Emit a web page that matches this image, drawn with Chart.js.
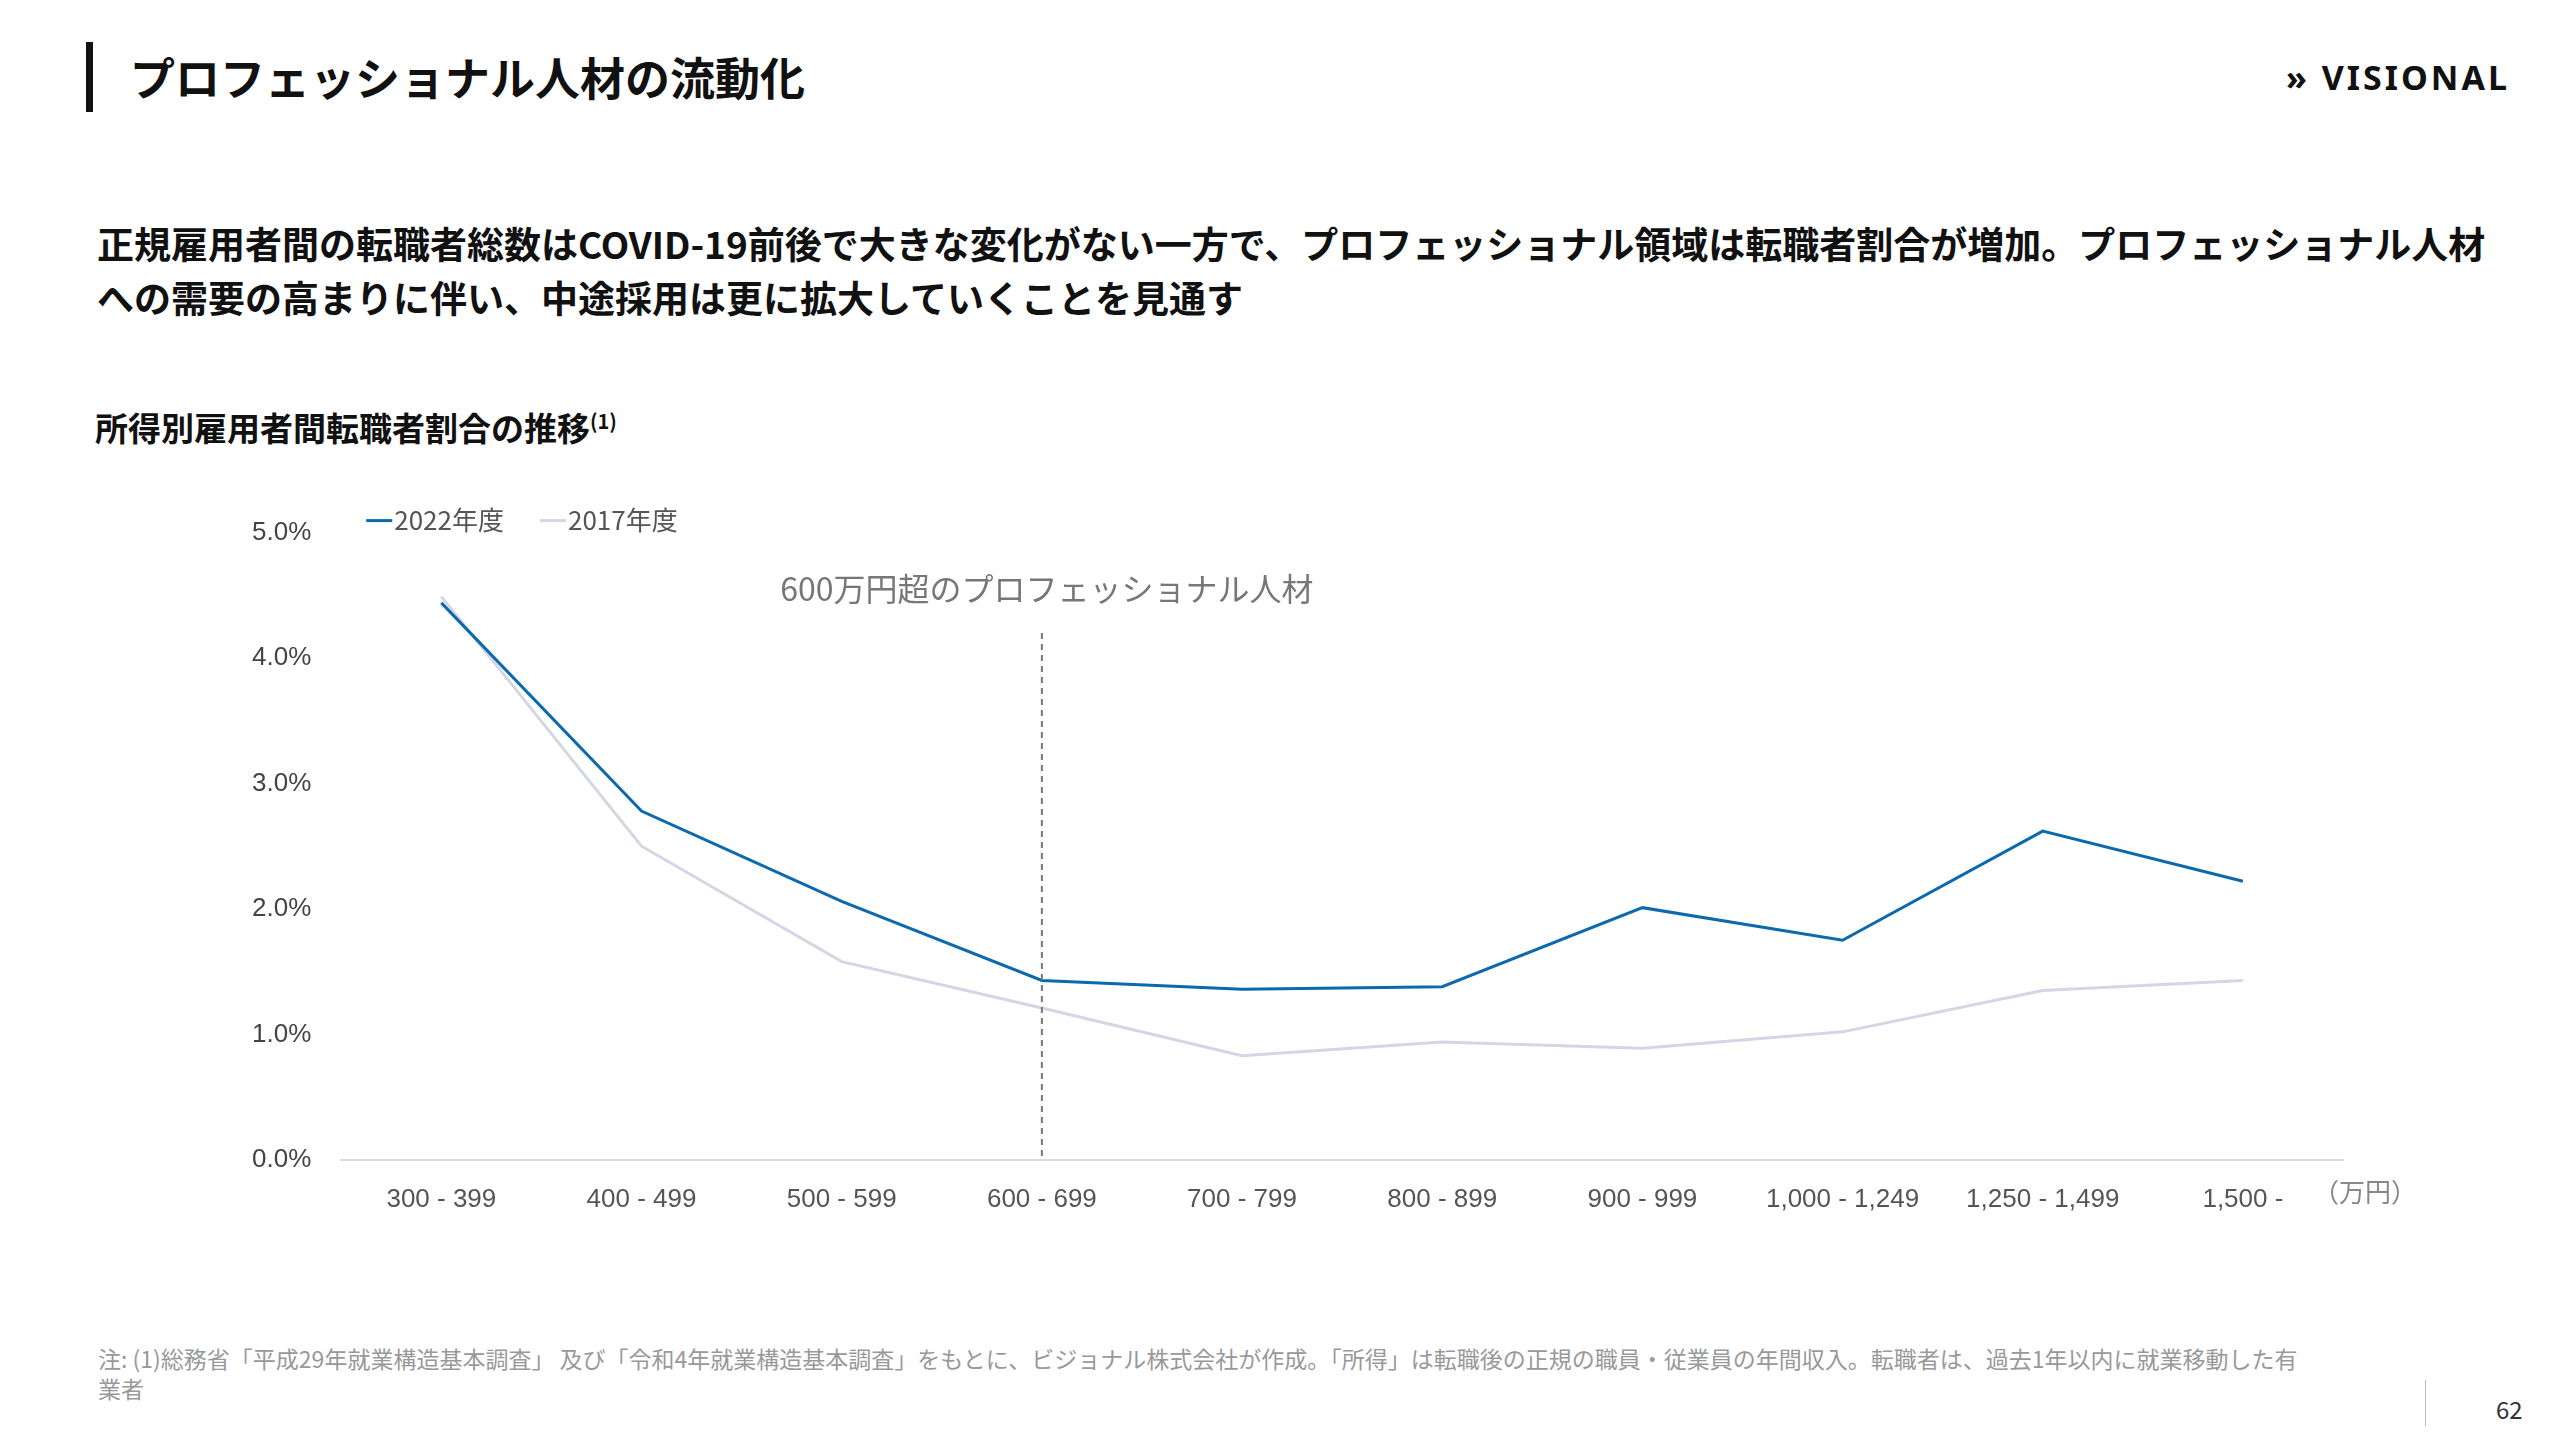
<!DOCTYPE html>
<html><head><meta charset="utf-8">
<script src="https://cdn.jsdelivr.net/npm/chart.js@4/dist/chart.umd.min.js"></script>
<style>
body{margin:0;width:2560px;height:1440px;background:#fff;font-family:"Noto Sans CJK JP","Noto Sans",sans-serif;position:relative;overflow:hidden;color:#111}
.abs{position:absolute}
#bar{left:86px;top:42px;width:7px;height:70px;background:#111}
#title{left:130px;top:44px;font-size:45px;font-weight:700}
#logo{right:50px;top:54px;font-size:34px;font-weight:700;letter-spacing:3px;font-family:"Noto Sans",sans-serif}
#lead{left:97px;top:216px;font-size:37px;font-weight:700;line-height:54px;width:2390px}
#sub{left:95px;top:403px;font-size:33px;font-weight:700}
#sub sup{font-size:20px}
#note{left:98px;top:1343px;font-size:23px;color:#999;width:2200px;line-height:30px}
#pg{left:2496px;top:1391px;font-size:24px;color:#333}
#pgline{left:2425px;top:1380px;width:1px;height:46px;background:#bbb}
#chartBox{left:230px;top:495px;width:2200px;height:752px}
</style></head><body>
<div class="abs" id="bar"></div>
<div class="abs" id="title">プロフェッショナル人材の流動化</div>
<div class="abs" id="logo">&raquo; VISIONAL</div>
<div class="abs" id="lead">正規雇用者間の転職者総数はCOVID-19前後で大きな変化がない一方で、プロフェッショナル領域は転職者割合が増加。プロフェッショナル人材への需要の高まりに伴い、中途採用は更に拡大していくことを見通す</div>
<div class="abs" id="sub">所得別雇用者間転職者割合の推移<sup>(1)</sup></div>
<div class="abs" id="chartBox"><canvas id="c"></canvas></div>
<div class="abs" id="note">注: (1)総務省「平成29年就業構造基本調査」 及び「令和4年就業構造基本調査」をもとに、ビジョナル株式会社が作成。「所得」は転職後の正規の職員・従業員の年間収入。転職者は、過去1年以内に就業移動した有業者</div>
<div class="abs" id="pgline"></div>
<div class="abs" id="pg">62</div>
<script>
const categories = ['300 - 399','400 - 499','500 - 599','600 - 699','700 - 799','800 - 899','900 - 999','1,000 - 1,249','1,250 - 1,499','1,500 -'];
const values2022 = [4.44, 2.78, 2.06, 1.43, 1.36, 1.38, 2.01, 1.75, 2.62, 2.22];
const values2017 = [4.49, 2.50, 1.58, 1.21, 0.83, 0.94, 0.89, 1.02, 1.35, 1.43];
const yTicks = [0, 1, 2, 3, 4, 5];
const markerIndex = 3;
const markerLabel = '600万円超のプロフェッショナル人材';
const unitLabel = '（万円）';

const overlay = {
  id: 'overlay',
  afterDraw(chart) {
    const {ctx, scales: {x, y}} = chart;
    const px = x.getPixelForValue(markerIndex);
    ctx.save();
    ctx.strokeStyle = '#777'; ctx.lineWidth = 2; ctx.setLineDash([6, 5]);
    ctx.beginPath(); ctx.moveTo(px, y.getPixelForValue(4.2)); ctx.lineTo(px, y.bottom); ctx.stroke();
    ctx.setLineDash([]);
    ctx.fillStyle = '#777'; ctx.font = '32px "Noto Sans CJK JP"'; ctx.textAlign = 'center'; ctx.textBaseline = 'middle';
    ctx.fillText(markerLabel, px + 5, y.getPixelForValue(4.55));
    ctx.fillStyle = '#888'; ctx.font = '26px "Noto Sans CJK JP"'; ctx.textAlign = 'left';
    ctx.fillText(unitLabel, x.right - 30, y.bottom + 32);
    // legend
    let lx = x.left + 25;
    const ly = y.top - 12;
    ctx.font = '26px "Noto Sans CJK JP"';
    chart.data.datasets.forEach(ds => {
      ctx.fillStyle = ds.borderColor;
      ctx.fillRect(lx, ly - 1.5, 26, 3);
      ctx.fillStyle = '#555';
      ctx.fillText(ds.label, lx + 28, ly);
      lx += 28 + ctx.measureText(ds.label).width + 36;
    });
    ctx.restore();
  }
};

new Chart(document.getElementById('c'), {
  type: 'line',
  data: {
    labels: categories,
    datasets: [
      {label: '2022年度', data: values2022, borderColor: '#0a6aad', backgroundColor: '#0a6aad', borderWidth: 3, pointRadius: 0, tension: 0},
      {label: '2017年度', data: values2017, borderColor: '#d4d6e4', backgroundColor: '#d4d6e4', borderWidth: 3, pointRadius: 0, tension: 0}
    ]
  },
  options: {
    responsive: true, maintainAspectRatio: false, animation: false,
    layout: {padding: {left: 0, right: 87, top: 37, bottom: 16}},
    scales: {
      y: {
        min: 0, max: 5,
        afterBuildTicks: s => { s.ticks = yTicks.map(v => ({value: v})); },
        ticks: {callback: v => v.toFixed(1) + '%', color: '#444', font: {size: 26, family: 'Liberation Sans'}, padding: 22},
        grid: {display: false}, border: {display: false}
      },
      x: {
        offset: true,
        ticks: {color: '#555', font: {size: 26, family: 'Liberation Sans'}, padding: 16, maxRotation: 0, autoSkip: false},
        grid: {display: false}, border: {color: '#d9d9e0', width: 2}
      }
    },
    plugins: {legend: {display: false}, tooltip: {enabled: false}}
  },
  plugins: [overlay]
});
</script>
</body></html>
